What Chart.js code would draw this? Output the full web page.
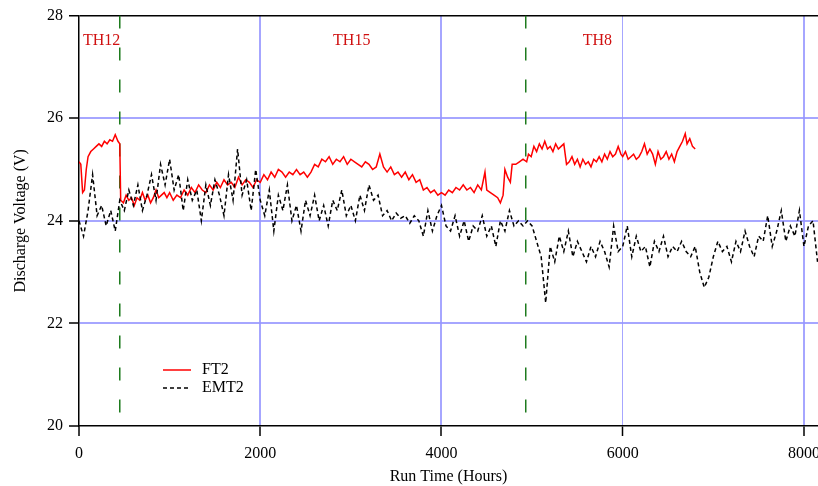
<!DOCTYPE html>
<html>
<head>
<meta charset="utf-8">
<script src="https://cdn.jsdelivr.net/npm/chart.js@4.4.1/dist/chart.umd.min.js"></script>
<style>
  html, body { margin: 0; padding: 0; background: #fff; }
  #wrap { width: 818px; height: 486px; }
</style>
</head>
<body>
<div id="wrap"><canvas id="voltChart" width="818" height="486"></canvas></div>
<script>
// FT2 thruster, discharge voltage vs run time
const ft2Hours = [
  0, 20, 40, 60, 80, 100, 130, 160, 190, 220,
  250, 280, 310, 340, 370, 400, 430, 450, 460, 490,
  520, 550, 580, 610, 640, 670, 700, 730, 760, 790,
  820, 850, 880, 910, 940, 970, 1000, 1040, 1080, 1120,
  1160, 1200, 1240, 1280, 1320, 1360, 1400, 1440, 1480, 1520,
  1560, 1600, 1640, 1680, 1720, 1760, 1800, 1840, 1880, 1920,
  1960, 2000, 2040, 2080, 2120, 2160, 2200, 2240, 2280, 2320,
  2360, 2400, 2440, 2480, 2520, 2560, 2600, 2640, 2680, 2720,
  2760, 2800, 2840, 2880, 2920, 2960, 3000, 3040, 3080, 3120,
  3160, 3200, 3240, 3280, 3320, 3360, 3400, 3440, 3480, 3520,
  3560, 3600, 3640, 3680, 3720, 3760, 3800, 3840, 3880, 3920,
  3960, 4000, 4040, 4080, 4120, 4160, 4200, 4240, 4280, 4320,
  4360, 4400, 4440, 4480, 4500, 4540, 4580, 4620, 4650, 4680,
  4700, 4730, 4760, 4780, 4820, 4860, 4900, 4940, 4960, 4990,
  5020, 5050, 5080, 5110, 5140, 5170, 5200, 5230, 5260, 5290,
  5320, 5350, 5380, 5410, 5440, 5470, 5500, 5530, 5560, 5590,
  5620, 5650, 5680, 5710, 5740, 5770, 5800, 5830, 5860, 5890,
  5920, 5950, 5980, 6000, 6030, 6060, 6090, 6120, 6150, 6180,
  6210, 6240, 6270, 6300, 6330, 6360, 6390, 6420, 6450, 6480,
  6510, 6540, 6570, 6600, 6630, 6660, 6690, 6710, 6740, 6770,
  6800
];
const ft2Volts = [
  25.15, 25.1, 24.55, 24.6, 25.0, 25.25, 25.35, 25.4, 25.45, 25.5,
  25.45, 25.55, 25.5, 25.58, 25.55, 25.68, 25.55, 25.5, 24.4, 24.35,
  24.5, 24.4, 24.45, 24.3, 24.45, 24.4, 24.55, 24.4, 24.5, 24.35,
  24.45, 24.6, 24.45, 24.5, 24.55, 24.45, 24.55, 24.4, 24.5, 24.45,
  24.6, 24.5, 24.65, 24.55, 24.7, 24.6, 24.55, 24.7, 24.6, 24.75,
  24.65, 24.8, 24.7, 24.75, 24.65, 24.85, 24.7, 24.8, 24.75, 24.65,
  24.8, 24.75, 24.9, 24.8, 24.95, 24.85, 25.0, 24.95, 24.85, 24.95,
  24.9, 25.0, 24.9, 24.95, 24.85, 24.95, 25.1, 25.05, 25.2, 25.15,
  25.25, 25.1, 25.2, 25.15, 25.25, 25.1, 25.2, 25.15, 25.1, 25.05,
  25.15, 25.1, 25.0, 25.05, 25.3, 25.05, 24.95, 25.05, 24.9, 24.95,
  24.85, 24.95, 24.8, 24.9, 24.75, 24.8, 24.6, 24.65, 24.55, 24.6,
  24.5, 24.55, 24.5, 24.6, 24.55, 24.65, 24.6, 24.7, 24.6, 24.65,
  24.55, 24.7, 24.6, 24.95, 24.6, 24.55, 24.5, 24.45, 24.35, 24.5,
  25.0, 24.85, 24.75, 25.1, 25.1, 25.15, 25.2, 25.15, 25.3, 25.25,
  25.45, 25.35, 25.5, 25.4, 25.55, 25.4, 25.45, 25.35, 25.5, 25.4,
  25.45, 25.5, 25.1, 25.15, 25.25, 25.1, 25.2, 25.05, 25.2, 25.1,
  25.15, 25.05, 25.2, 25.15, 25.25, 25.15, 25.3, 25.2, 25.35, 25.25,
  25.3, 25.45, 25.3, 25.25, 25.35, 25.2, 25.25, 25.3, 25.2, 25.25,
  25.35, 25.5, 25.3, 25.4, 25.3, 25.1, 25.35, 25.2, 25.25, 25.35,
  25.2, 25.3, 25.15, 25.35, 25.45, 25.55, 25.7, 25.5, 25.6, 25.45,
  25.4
];

// EMT2 thruster
const emt2Hours = [
  0, 50, 100, 150, 200, 250, 300, 350, 400, 450,
  500, 550, 600, 650, 700, 750, 800, 850, 900, 950,
  1000, 1050, 1100, 1150, 1200, 1250, 1300, 1350, 1400, 1450,
  1500, 1550, 1600, 1650, 1700, 1750, 1800, 1850, 1900, 1950,
  2000, 2050, 2100, 2150, 2200, 2250, 2300, 2350, 2400, 2450,
  2500, 2550, 2600, 2650, 2700, 2750, 2800, 2850, 2900, 2950,
  3000, 3050, 3100, 3150, 3200, 3250, 3300, 3350, 3400, 3450,
  3500, 3550, 3600, 3650, 3700, 3750, 3800, 3850, 3900, 3950,
  4000, 4050, 4100, 4150, 4200, 4250, 4300, 4350, 4400, 4450,
  4500, 4550, 4600, 4650, 4700, 4750, 4800, 4850, 4900, 4950,
  5000, 5050, 5100, 5150, 5200, 5250, 5300, 5350, 5400, 5450,
  5500, 5550, 5600, 5650, 5700, 5750, 5800, 5850, 5900, 5950,
  6000, 6050, 6100, 6150, 6200, 6250, 6300, 6350, 6400, 6450,
  6500, 6550, 6600, 6650, 6700, 6750, 6800, 6850, 6900, 6950,
  7000, 7050, 7100, 7150, 7200, 7250, 7300, 7350, 7400, 7450,
  7500, 7550, 7600, 7650, 7700, 7750, 7800, 7850, 7900, 7950,
  8000, 8050, 8100, 8150
];
const emt2Volts = [
  24.0, 23.7, 24.2, 24.9, 24.1, 24.3, 23.9, 24.2, 23.8, 24.4,
  24.2, 24.6, 24.3, 24.7, 24.2, 24.5, 24.9, 24.4, 25.1, 24.7,
  25.2, 24.6, 24.9, 24.2, 24.8, 24.4, 24.6, 24.0, 24.7, 24.3,
  24.8, 24.5, 24.1, 24.9, 24.4, 25.4, 24.5, 24.8, 24.2, 25.0,
  24.4, 24.1, 24.6, 23.8, 24.5, 24.2, 24.7, 24.0, 24.3, 23.8,
  24.4, 24.1, 24.5, 24.0, 24.3, 23.9, 24.4, 24.2, 24.6, 24.1,
  24.3, 24.0, 24.5, 24.2, 24.7, 24.4, 24.5, 24.1, 24.2, 24.0,
  24.15, 24.05, 24.1, 23.95, 24.1, 24.0, 23.7, 24.2, 23.8, 24.1,
  24.3, 23.9, 23.8, 24.1, 23.7, 24.0, 23.6, 23.9, 23.8, 24.1,
  23.7, 23.9, 23.5, 24.0, 23.8, 24.2, 23.9, 24.0, 23.9, 24.0,
  23.9, 23.6, 23.3, 22.4, 23.5, 23.2, 23.7, 23.4, 23.8, 23.3,
  23.6, 23.4, 23.2, 23.5, 23.3, 23.6, 23.4, 23.1, 23.9, 23.4,
  23.5, 23.9, 23.3, 23.7, 23.4, 23.5, 23.1, 23.6, 23.4, 23.7,
  23.3, 23.5, 23.4, 23.6, 23.4, 23.3, 23.5, 23.0, 22.7, 22.9,
  23.3, 23.6, 23.4, 23.5, 23.2, 23.6, 23.4, 23.8, 23.5, 23.3,
  23.7, 23.6, 24.1, 23.5, 23.8, 24.2, 23.6, 23.9, 23.7, 24.2,
  23.5, 23.9, 24.0, 23.2
];

// thruster change points and labels
const changeHours = [450, 4930];
const phaseNames = ['TH12', 'TH15', 'TH8'];
const phaseHours = [250, 3010, 5720];
const phaseVolt = 27.5;

const xTicks = [0, 2000, 4000, 6000, 8000];
const yTicks = [20, 22, 24, 26, 28];

const serif = 'Liberation Serif';
const gridBlue = 'rgba(150,150,255,0.85)';

const toPts = (xs, ys) => xs.map((x, i) => ({ x: x, y: ys[i] }));

// drawn top to bottom so the dash pattern starts at the top border
const changeSets = changeHours.map((h) => ({
  label: 'change',
  data: [{ x: h, y: 28 }, { x: h, y: 20 }],
  borderColor: '#1e7b1e',
  borderWidth: 1.5,
  borderDash: [13, 19],
  pointRadius: 0,
  order: 3
}));

const overlay = {
  id: 'overlay',
  afterDatasetsDraw(chart) {
    const { ctx, scales: { x, y } } = chart;
    ctx.save();
    ctx.font = '16px "' + serif + '"';
    ctx.fillStyle = '#d01010';
    ctx.textAlign = 'center';
    ctx.textBaseline = 'middle';
    phaseNames.forEach((name, i) => {
      ctx.fillText(name, x.getPixelForValue(phaseHours[i]), y.getPixelForValue(phaseVolt));
    });

    // legend inside the plot
    const lx = 163, ly = 370;
    ctx.lineWidth = 1.5;
    ctx.strokeStyle = '#ff0000';
    ctx.beginPath(); ctx.moveTo(lx, ly); ctx.lineTo(lx + 28, ly); ctx.stroke();
    ctx.strokeStyle = '#000';
    ctx.setLineDash([4, 3]);
    ctx.beginPath(); ctx.moveTo(lx, ly + 18); ctx.lineTo(lx + 28, ly + 18); ctx.stroke();
    ctx.setLineDash([]);
    ctx.fillStyle = '#000';
    ctx.textAlign = 'left';
    ctx.fillText('FT2', lx + 39, ly);
    ctx.fillText('EMT2', lx + 39, ly + 18);
    ctx.restore();
  }
};

new Chart(document.getElementById('voltChart'), {
  type: 'line',
  data: {
    datasets: [
      {
        label: 'EMT2',
        data: toPts(emt2Hours, emt2Volts),
        borderColor: '#000',
        borderWidth: 1.5,
        borderDash: [4, 3],
        pointRadius: 0,
        order: 1
      },
      {
        label: 'FT2',
        data: toPts(ft2Hours, ft2Volts),
        borderColor: '#ff0000',
        borderWidth: 1.5,
        pointRadius: 0,
        order: 2
      },
      ...changeSets
    ]
  },
  options: {
    responsive: false,
    animation: false,
    layout: { padding: { top: 15, right: 0, left: 0, bottom: 0 } },
    plugins: { legend: { display: false }, tooltip: { enabled: false } },
    scales: {
      x: {
        type: 'linear',
        min: 0,
        max: 8155,
        afterFit: (s) => { s.height = 60; s.paddingRight = 0; s.paddingLeft = 0; },
        afterBuildTicks: (s) => { s.ticks = xTicks.map((v) => ({ value: v })); },
        ticks: {
          color: '#000',
          padding: 8,
          font: { family: serif, size: 16 },
          callback: (v) => String(v)
        },
        grid: {
          color: (c) => (c.tick && c.tick.value === 0 ? 'rgba(0,0,0,0)' : gridBlue),
          lineWidth: (c) => (c.tick && c.tick.value === 6000 ? 1 : 2),
          tickColor: '#000',
          tickWidth: 1.5,
          tickLength: 10
        },
        border: { color: '#000', width: 1.5 },
        title: {
          display: true,
          text: 'Run Time (Hours)',
          color: '#000',
          font: { family: serif, size: 16 },
          padding: { top: 0, bottom: 0 }
        }
      },
      y: {
        min: 20,
        max: 28,
        afterFit: (s) => { s.width = 79; },
        afterBuildTicks: (s) => { s.ticks = yTicks.map((v) => ({ value: v })); },
        ticks: { color: '#000', padding: 6, font: { family: serif, size: 16 } },
        grid: {
          color: (c) => {
            if (!c.tick) return gridBlue;
            if (c.tick.value === 28) return '#000';
            if (c.tick.value === 20) return 'rgba(0,0,0,0)';
            return gridBlue;
          },
          lineWidth: (c) => (c.tick && c.tick.value === 28 ? 1.5 : 2),
          tickColor: '#000',
          tickWidth: 1.5,
          tickLength: 10
        },
        border: { color: '#000', width: 1.5 },
        title: {
          display: true,
          text: 'Discharge Voltage (V)',
          color: '#000',
          font: { family: serif, size: 16 },
          padding: { top: 11, bottom: 0 }
        }
      }
    }
  },
  plugins: [overlay]
});
</script>
</body>
</html>
